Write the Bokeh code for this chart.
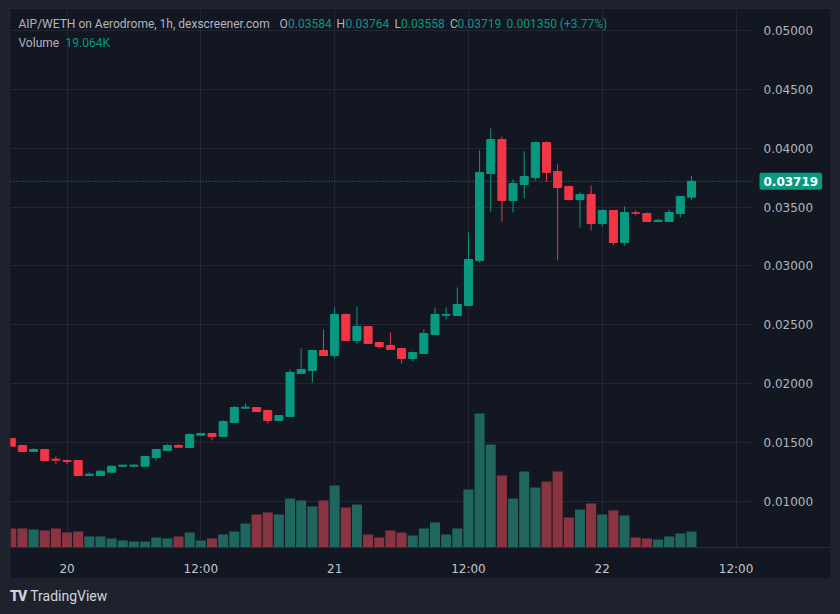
import numpy as np
from bokeh.plotting import figure
from bokeh.models import (ColumnDataSource, Range1d, FixedTicker, Span, Label, Div,
                          NumeralTickFormatter, BoxAnnotation)
from bokeh.layouts import column
from bokeh.embed import file_html
from bokeh.resources import INLINE

# hour offsets from 20 Jan 00:00 (1h candles)
hours = list(range(-5, 57))
opens = [0.01534, 0.01474, 0.01423, 0.01440, 0.01358, 0.01347, 0.01347, 0.01219, 0.01219, 0.01247,
         0.01298, 0.01298, 0.01298, 0.01372, 0.01432, 0.01474, 0.01457, 0.01562, 0.01576, 0.01551,
         0.01670, 0.01791, 0.01797, 0.01772, 0.01687, 0.01721, 0.02086, 0.02111, 0.02281, 0.02239,
         0.02587, 0.02366, 0.02485, 0.02349, 0.02324, 0.02298, 0.02213, 0.02256, 0.02417, 0.02581,
         0.02579, 0.02664, 0.03046, 0.03785, 0.04074, 0.03556, 0.03692, 0.03751, 0.04048, 0.03802,
         0.03675, 0.03564, 0.03607, 0.03360, 0.03471, 0.03199, 0.03451, 0.03445, 0.03377, 0.03377,
         0.03445, 0.03584]
highs = [0.01534, 0.01474, 0.01451, 0.01440, 0.01381, 0.01355, 0.01347, 0.01247, 0.01264, 0.01298,
         0.01307, 0.01315, 0.01381, 0.01440, 0.01485, 0.01485, 0.01576, 0.01576, 0.01576, 0.01687,
         0.01808, 0.01831, 0.01797, 0.01772, 0.01729, 0.02120, 0.02298, 0.02281, 0.02460, 0.02647,
         0.02596, 0.02655, 0.02485, 0.02349, 0.02434, 0.02298, 0.02273, 0.02460, 0.02647, 0.02647,
         0.02817, 0.03284, 0.03981, 0.04167, 0.04099, 0.03734, 0.03972, 0.04048, 0.04057, 0.03862,
         0.03675, 0.03624, 0.03683, 0.03479, 0.03471, 0.03505, 0.03471, 0.03454, 0.03397, 0.03479,
         0.03590, 0.03764]
lows = [0.01468, 0.01423, 0.01423, 0.01347, 0.01315, 0.01315, 0.01219, 0.01219, 0.01219, 0.01247,
        0.01290, 0.01298, 0.01298, 0.01347, 0.01432, 0.01460, 0.01457, 0.01562, 0.01517, 0.01551,
        0.01670, 0.01791, 0.01763, 0.01661, 0.01687, 0.01721, 0.02086, 0.02009, 0.02239, 0.02213,
        0.02366, 0.02341, 0.02341, 0.02298, 0.02290, 0.02171, 0.02188, 0.02256, 0.02417, 0.02545,
        0.02579, 0.02664, 0.03029, 0.03462, 0.03377, 0.03454, 0.03573, 0.03726, 0.03717, 0.03046,
        0.03556, 0.03326, 0.03301, 0.03335, 0.03173, 0.03173, 0.03428, 0.03377, 0.03377, 0.03377,
        0.03411, 0.03558]
closes = [0.01468, 0.01423, 0.01440, 0.01347, 0.01349, 0.01338, 0.01219, 0.01230, 0.01256, 0.01298,
          0.01307, 0.01307, 0.01381, 0.01440, 0.01474, 0.01460, 0.01568, 0.01576, 0.01551, 0.01678,
          0.01797, 0.01800, 0.01763, 0.01687, 0.01729, 0.02094, 0.02120, 0.02281, 0.02239, 0.02587,
          0.02366, 0.02485, 0.02341, 0.02315, 0.02290, 0.02213, 0.02264, 0.02426, 0.02587, 0.02587,
          0.02672, 0.03054, 0.03794, 0.04074, 0.03556, 0.03700, 0.03760, 0.04048, 0.03794, 0.03666,
          0.03564, 0.03607, 0.03360, 0.03471, 0.03199, 0.03454, 0.03448, 0.03377, 0.03388, 0.03454,
          0.03590, 0.03719]
volumes_k = [22.6, 22.6, 21.4, 20.3, 22.6, 17.9, 19.1, 13.1, 13.1, 10.7,
             8.3, 7.1, 7.1, 11.9, 10.7, 13.1, 17.9, 8.3, 10.7, 15.5,
             19.1, 28.6, 39.3, 41.7, 39.3, 58.4, 56.0, 48.9, 56.0, 73.9,
             47.7, 51.2, 15.5, 11.9, 20.3, 17.9, 14.3, 22.6, 29.8, 15.5,
             22.6, 69.1, 159.7, 122.7, 85.8, 58.4, 90.6, 71.5, 78.6, 90.6,
             35.7, 45.3, 52.4, 39.3, 44.1, 38.1, 11.9, 10.7, 9.5, 13.1,
             16.7, 19.064]

price_ticks = [0.010, 0.015, 0.020, 0.025, 0.030, 0.035, 0.040, 0.045, 0.050]
time_ticks = [0, 12, 24, 36, 48, 60]
time_labels = ["20", "12:00", "21", "12:00", "22", "12:00"]
last_price = 0.03719
plot_end = 61.57          # hour at which the candle pane meets the price scale

UP, DOWN = "#089981", "#f23645"
VOL_UP, VOL_DOWN = "#1e665e", "#8a3441"
PANE, OUTER, GRID, TXT = "#131722", "#1e222d", "#232733", "#b2b5be"

up = [c >= o for o, c in zip(opens, closes)]
src = ColumnDataSource(dict(
    x=hours, open=opens, high=highs, low=lows, close=closes,
    top=[max(o, c) for o, c in zip(opens, closes)],
    bottom=[min(o, c) for o, c in zip(opens, closes)],
    color=[UP if u else DOWN for u in up],
    vol=volumes_k,
    vcolor=[VOL_UP if u else VOL_DOWN for u in up],
))

p = figure(width=821, height=570, output_backend="svg", toolbar_location=None,
           x_range=Range1d(-5.07, 68.47), y_range=Range1d(0.006075, 0.051784),
           y_axis_location="right", min_border_left=1, min_border_right=0,
           min_border_top=1, min_border_bottom=31)
p.margin = (8, 10, 0, 9)
p.styles = {"outline": "1px solid #2a2e39", "outline-offset": "-1px"}
p.extra_y_ranges = {"vol": Range1d(0, 641.0)}
p.background_fill_color = PANE
p.border_fill_color = PANE
p.outline_line_color = None

# dotted last-price line (under the price-scale cover)
p.add_layout(Span(location=last_price, dimension="width", line_color=UP,
                  line_dash="1 2", line_width=1, level="underlay"))
# price-scale area cover
p.add_layout(BoxAnnotation(left=plot_end, fill_color=PANE, fill_alpha=1.0,
                           line_color=None, level="underlay"))

p.vbar(x="x", width=0.9, top="vol", bottom=0, fill_color="vcolor", line_color=None,
       y_range_name="vol", source=src)
p.segment(x0="x", y0="low", x1="x", y1="high", line_color="color", line_width=1, source=src)
p.vbar(x="x", width=0.72, top="top", bottom="bottom", fill_color="color",
       line_color="color", line_width=1, source=src)

# axes
yax = p.yaxis[0]
yax.ticker = FixedTicker(ticks=price_ticks)
yax.formatter = NumeralTickFormatter(format="0.00000")
yax.axis_line_color = None
yax.major_tick_line_color = None
yax.minor_tick_line_color = None
yax.major_tick_out = 0
yax.major_tick_in = 0
yax.minor_tick_out = 0
yax.major_label_standoff = -67
yax.major_label_text_color = TXT
yax.major_label_text_font = "DejaVu Sans"
yax.major_label_text_font_size = "12px"

xax = p.xaxis[0]
xax.ticker = FixedTicker(ticks=time_ticks)
xax.major_label_overrides = {t: l for t, l in zip(time_ticks, time_labels)}
xax.axis_line_color = "#2a2e39"
xax.major_tick_line_color = None
xax.minor_tick_line_color = None
xax.major_label_standoff = 8
xax.major_label_text_color = "#c3c6ce"
xax.major_label_text_font = "DejaVu Sans"
xax.major_label_text_font_size = "12px"

p.xgrid.ticker = FixedTicker(ticks=time_ticks)
p.ygrid.ticker = FixedTicker(ticks=price_ticks)
for g in (p.xgrid, p.ygrid):
    g.grid_line_color = GRID
    g.grid_line_width = 1

# last price tag on the price scale
p.add_layout(Label(x=749, y=last_price, x_units="screen", y_units="data",
                   text=f"{last_price:.5f}", text_color="white", text_font_style="bold",
                   text_font="DejaVu Sans", text_font_size="12px", text_baseline="middle",
                   text_align="left", background_fill_color=UP, padding=4,
                   border_radius=2))

# legend header
hdr = [("AIP/WETH on Aerodrome, 1h, dexscreener.com", 8, TXT),
       ("O", 269, TXT), ("0.03584", 277.5, UP),
       ("H", 326, TXT), ("0.03764", 335, UP),
       ("L", 384, TXT), ("0.03558", 390.5, UP),
       ("C", 439.6, TXT), ("0.03719", 447, UP),
       ("0.001350 (+3.77%)", 496, UP)]
for t, x, c in hdr:
    p.add_layout(Label(x=x, y=524, x_units="screen", y_units="screen", text=t,
                       text_color=c, text_font="Roboto", text_font_size="12px",
                       text_baseline="middle"))
for t, x, c in [("Volume", 8, TXT), ("19.064K", 55, UP)]:
    p.add_layout(Label(x=x, y=505, x_units="screen", y_units="screen", text=t,
                       text_color=c, text_font="Roboto", text_font_size="12px",
                       text_baseline="middle"))

logo = Div(text='<div style="display:flex;align-items:center;height:36px;padding-left:10px;'
                'color:#d1d4dc;font-family:Roboto;font-size:14px;">'
                '<span style="font-weight:900;font-size:14px;margin-right:4px;letter-spacing:-1px;">TV</span>'
                'TradingView</div>',
           width=840, height=36, margin=(0, 0, 0, 0))

layout = column(p, logo, styles={"background-color": OUTER}, margin=(0, 0, 0, 0))

open("out.html", "w").write(file_html(layout, INLINE))
